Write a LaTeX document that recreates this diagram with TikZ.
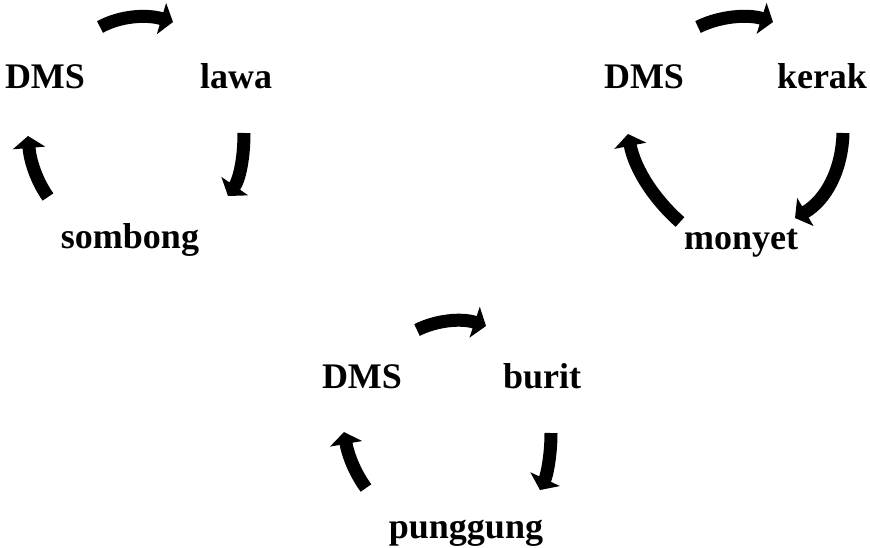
\documentclass[tikz,border=0pt]{standalone}
\usepackage{fontspec}
\setmainfont{Liberation Serif}
\usetikzlibrary{arrows.meta}
\tikzset{
  lbl/.style={anchor=base, inner sep=0pt, font=\fontsize{36}{40}\selectfont\bfseries},
  cyc/.style={line width=13pt, line cap=butt, -{Triangle[width=32pt,length=12pt]}, black}
}
\begin{document}
\begin{tikzpicture}[x=1pt,y=-1pt]
\useasboundingbox (0,0) rectangle (870,547);
% diagram 1
\node[lbl] (d1) at (45,88) {DMS};
\node[lbl] (l1) at (236,88) {lawa};
\node[lbl] (s1) at (130,248) {sombong};
\coordinate (a1s) at (100,27); \coordinate (a1e) at (173,22);
\coordinate (b1s) at (244,133); \coordinate (b1e) at (228,196);
\coordinate (c1s) at (48,197); \coordinate (c1e) at (28,136);
\draw[cyc] (a1s) .. controls (120,16) and (146,14) .. (a1e);
\draw[cyc] (b1s) .. controls (244,160) and (239,180) .. (b1e);
\draw[cyc] (c1s) .. controls (36,180) and (30,160) .. (c1e);
% diagram 2
\node[lbl] (d2) at (644,88) {DMS};
\node[lbl] (k2) at (822,88) {kerak};
\node[lbl] (m2) at (741,249) {monyet};
\coordinate (a2s) at (698,27); \coordinate (a2e) at (773,22);
\coordinate (b2s) at (843,133); \coordinate (b2e) at (795,218);
\coordinate (c2s) at (680,222); \coordinate (c2e) at (628,134);
\draw[cyc] (a2s) .. controls (720,16) and (748,14) .. (a2e);
\draw[cyc] (b2s) .. controls (842,170) and (826,200) .. (b2e);
\draw[cyc] (c2s) .. controls (655,200) and (635,170) .. (c2e);
% diagram 3
\node[lbl] (d3) at (362,388) {DMS};
\node[lbl] (b3) at (542,388) {burit};
\node[lbl] (p3) at (466,538) {punggung};
\coordinate (a3s) at (417,330); \coordinate (a3e) at (486,326);
\coordinate (b3s) at (551,433); \coordinate (b3e) at (540,490);
\coordinate (c3s) at (366,488); \coordinate (c3e) at (344,432);
\draw[cyc] (a3s) .. controls (437,320) and (462,318) .. (a3e);
\draw[cyc] (b3s) .. controls (551,455) and (547,475) .. (b3e);
\draw[cyc] (c3s) .. controls (355,473) and (348,455) .. (c3e);
\end{tikzpicture}
\end{document}
